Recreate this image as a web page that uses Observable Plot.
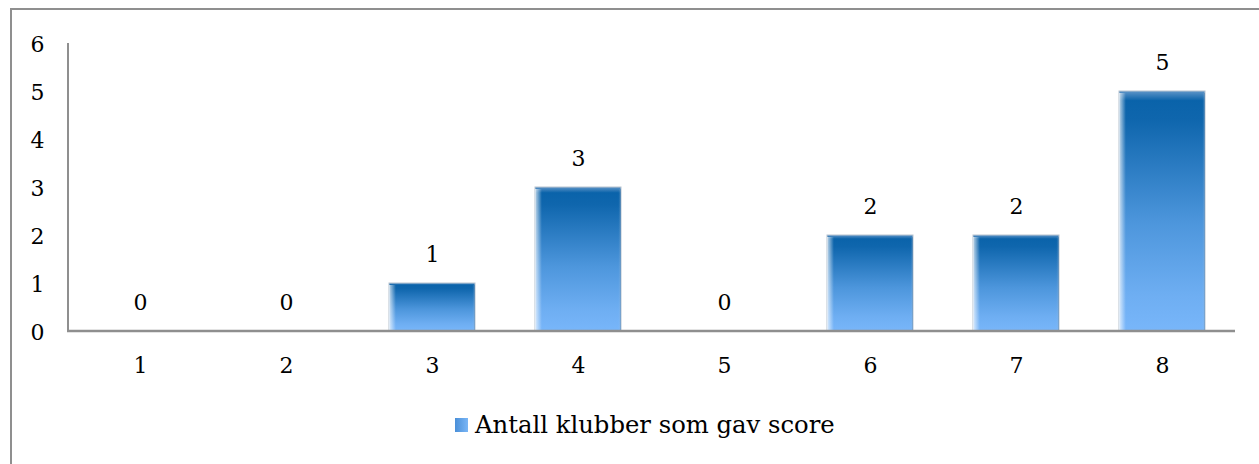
<!DOCTYPE html>
<html>
<head>
<meta charset="utf-8">
<script src="https://cdn.jsdelivr.net/npm/d3@7"></script>
<script src="https://cdn.jsdelivr.net/npm/@observablehq/plot@0.6"></script>
<style>
  html, body { margin: 0; padding: 0; background: #fff; width: 1259px; height: 464px; overflow: hidden; }
  #frame { position: absolute; left: 10px; top: 8px; width: 1300px; height: 520px; border: 2px solid #8f8f8f; box-sizing: border-box; }
  #chart { position: absolute; left: 0; top: 0; }
  #legend { position: absolute; left: 0; top: 410px; width: 1259px; text-align: left; font-family: "DejaVu Serif", serif; font-size: 24.3px; color: #000; }
  #legend .item { position: absolute; left: 455px; top: 0; white-space: nowrap; display: flex; align-items: center; }
  #legend .sw { width: 13px; height: 14px; margin-right: 7px; background: linear-gradient(to right, #4a8fd8, #7ab6f6); }
</style>
</head>
<body>
<div id="frame"></div>
<div id="chart"></div>
<div id="legend"><div class="item"><span class="sw"></span><span class="lbl">Antall klubber som gav score</span></div></div>
<script>
const scores = ["1", "2", "3", "4", "5", "6", "7", "8"];
const counts = [0, 0, 1, 3, 0, 2, 2, 5];
const yTicks = [0, 1, 2, 3, 4, 5, 6];
const seriesName = "Antall klubber som gav score";

const data = scores.map((s, i) => ({score: s, count: counts[i]}));
const font = "DejaVu Serif, serif";

const plot = Plot.plot({
  width: 1259,
  height: 390,
  marginLeft: 68,
  marginRight: 24,
  marginTop: 43,
  marginBottom: 59,
  style: {fontFamily: font, fontSize: "22px", color: "#000", background: "transparent", overflow: "visible"},
  x: {type: "band", domain: scores, paddingInner: 0.41, paddingOuter: 0.2, label: null},
  y: {domain: [0, 6], ticks: yTicks, label: null},
  marks: [
    Plot.axisY({ticks: yTicks, tickFormat: d => String(d), tickSize: 0, tickPadding: 31, textAnchor: "middle", label: null, fontSize: 22, fontFamily: font, dy: 1}),
    Plot.axisX({tickSize: 0, tickPadding: 26, label: null, fontSize: 22, fontFamily: font}),
    Plot.barY(data.filter(d => d.count > 0), {x: "score", y: "count", fill: "url(#barGrad)", stroke: "#b8c4d0", strokeWidth: 1, style: "filter: drop-shadow(2px 2px 2px rgba(0,0,0,0.28))"}),
    Plot.barY(data.filter(d => d.count > 0), {x: "score", y: "count", fill: "url(#barHl)", insetTop: 2}),
    Plot.text(data, {x: "score", y: "count", text: d => String(d.count), dy: -29, fontSize: 22, fontFamily: font, fill: "#000"})
  ]
});

const xs = plot.scale("x"), ys = plot.scale("y");
const svg = d3.select(plot);
const x0 = xs.range[0], x1 = xs.range[1];
svg.append("line").attr("x1", x0).attr("x2", x0).attr("y1", ys.apply(6)).attr("y2", ys.apply(0)).attr("stroke", "#8f8f8f").attr("stroke-width", 2);
svg.append("line").attr("x1", x0 - 1).attr("x2", x1).attr("y1", ys.apply(0)).attr("y2", ys.apply(0)).attr("stroke", "#8f8f8f").attr("stroke-width", 2.5);

const defs = svg.insert("defs", ":first-child");
const g1 = defs.append("linearGradient").attr("id", "barGrad").attr("x1", 0).attr("y1", 0).attr("x2", 0).attr("y2", 1);
g1.append("stop").attr("offset", "0%").attr("stop-color", "#5f95c8");
g1.append("stop").attr("offset", "4%").attr("stop-color", "#0a63aa");
g1.append("stop").attr("offset", "12%").attr("stop-color", "#0f66ad");
g1.append("stop").attr("offset", "55%").attr("stop-color", "#4d96dc");
g1.append("stop").attr("offset", "85%").attr("stop-color", "#6eaef2");
g1.append("stop").attr("offset", "100%").attr("stop-color", "#78b6fa");
const g2 = defs.append("linearGradient").attr("id", "barHl").attr("x1", 0).attr("y1", 0).attr("x2", 1).attr("y2", 0);
g2.append("stop").attr("offset", "0%").attr("stop-color", "#ffffff").attr("stop-opacity", 0.75);
g2.append("stop").attr("offset", "8%").attr("stop-color", "#ffffff").attr("stop-opacity", 0.0);
g2.append("stop").attr("offset", "97%").attr("stop-color", "#ffffff").attr("stop-opacity", 0.0);
g2.append("stop").attr("offset", "100%").attr("stop-color", "#0a4f90").attr("stop-opacity", 0.4);

document.getElementById("chart").appendChild(plot);
</script>
</body>
</html>
